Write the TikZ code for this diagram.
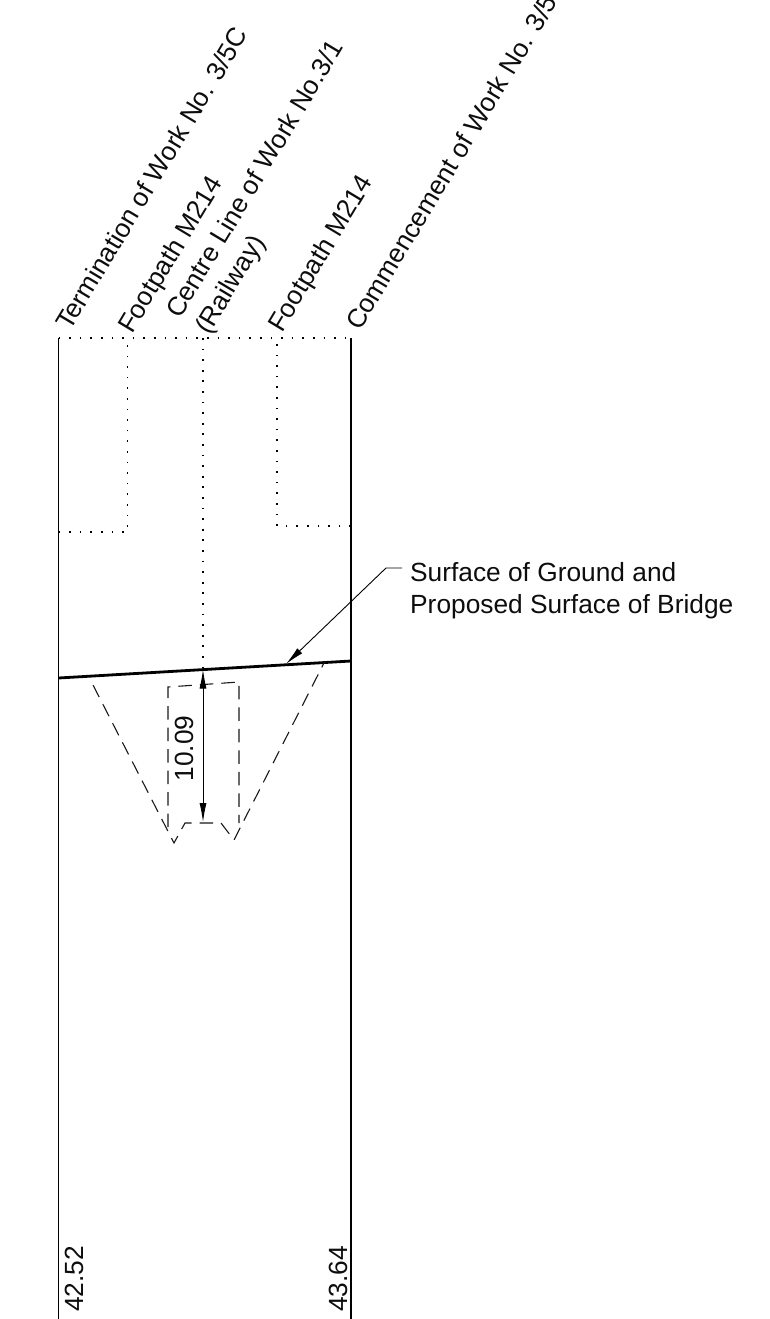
\documentclass[tikz,border=0pt]{standalone}
\usepackage{fontspec}
\setmainfont{Liberation Sans}
\usetikzlibrary{arrows.meta}
\tikzset{
 solidline/.style={line width=1.2pt,black},
 dotline/.style={line width=1.15pt,black,dash pattern=on 1.7pt off 8.9pt},
 dashline/.style={line width=1.1pt,black!90,dash pattern=on 13.5pt off 8pt},
 ground/.style={line width=2.8pt,black},
 lab/.style={font=\fontsize{26.3}{30}\selectfont,inner sep=0pt,text=black!95},
 rotlab/.style={lab,rotate=59,anchor=base west},
 dimline/.style={line width=0.9pt,black,{Latex[length=19pt,width=7pt]}-{Latex[length=19pt,width=7pt]}},
}
\begin{document}
\begin{tikzpicture}[x=1pt,y=-1pt]
\useasboundingbox (0,0) rectangle (770,1319);
% key points
\coordinate (TL) at (58.5,338); \coordinate (TR) at (351,338);
\coordinate (BL) at (58.5,1319); \coordinate (BR) at (351,1319);
\coordinate (F1T) at (127.5,338); \coordinate (F1B) at (127.5,532); \coordinate (F1L) at (58.5,532);
\coordinate (F2T) at (277,338); \coordinate (F2B) at (277,526); \coordinate (F2R) at (351,526);
\coordinate (CT) at (203,338); \coordinate (CB) at (203,668.5);
\coordinate (GL) at (58.5,678); \coordinate (GR) at (351,661);
% frame
\draw[solidline] (TL) -- (BL);
\draw[solidline] (TR) -- (BR);
% dotted
\draw[dotline] (TL) -- (TR);
\draw[dotline] (F1L) -- (F1B) -- (F1T);
\draw[dotline] (F2R) -- (F2B) -- (F2T);
\draw[dotline] (CT) -- (CB);
% ground
\draw[ground] (GL) -- (GR);
% dashed
\draw[dashline] (93,685) -- (174,843) -- (185,823) -- (221,823) -- (234,840) -- (325,661);
\draw[dashline] (168,827) -- (168,687) -- (239,682) -- (239,823);
% dimension
\coordinate (DT) at (203,669.5); \coordinate (DB) at (203,822);
\draw[dimline] (DT) -- (DB);
\node[lab,rotate=90,anchor=base] (dimv) at (193.5,748.5) {10.09};
% leader
\node[lab,anchor=base west,align=left] (s1) at (410,581) {Surface of Ground and};
\node[lab,anchor=base west,align=left] (s2) at (410,613) {Proposed Surface of Bridge};
\coordinate (LA) at (402,568); \coordinate (LB) at (386,568); \coordinate (LC) at (286,664);
\draw[line width=0.9pt,black,-{Latex[length=19pt,width=7pt]}] (LA) -- (LB) -- (LC);
% rotated labels
\node[rotlab] (t1) at (70,332) {Termination of Work No. 3/5C};
\node[rotlab] (t2) at (132,335) {Footpath M214};
\node[rotlab] (t3) at (180,320) {Centre Line of Work No.3/1};
\node[rotlab] (t4) at (209,336) {(Railway)};
\node[rotlab] (t5) at (282,334) {Footpath M214};
\node[rotlab] (t6) at (360,332) {Commencement of Work No. 3/5};
% bottom values
\node[lab,rotate=90,anchor=base west] (v1) at (83,1312) {42.52};
\node[lab,rotate=90,anchor=base west] (v2) at (347,1312) {43.64};
\end{tikzpicture}
\end{document}
